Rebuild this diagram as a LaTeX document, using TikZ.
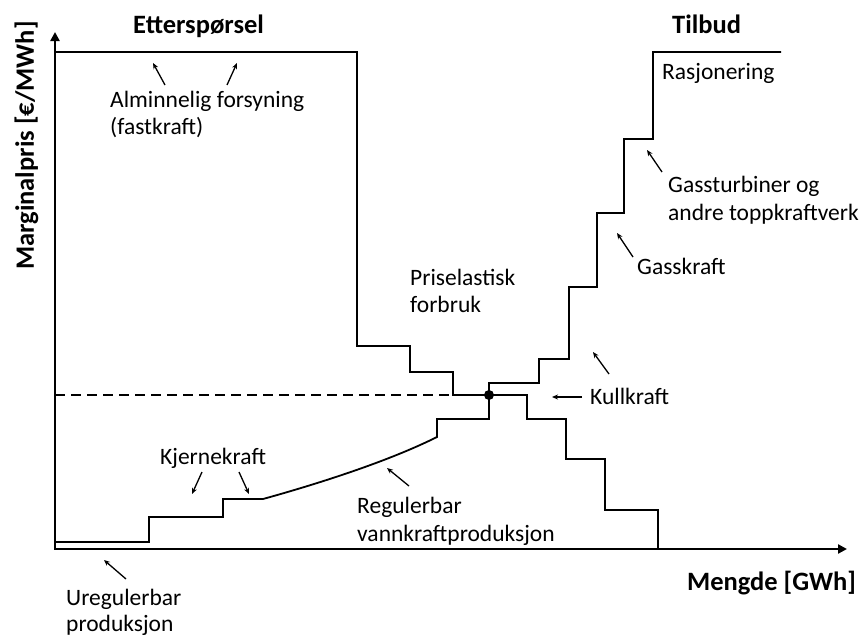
\documentclass[tikz,border=0pt]{standalone}
\usepackage{fontspec}
\setmainfont{Carlito}
\usetikzlibrary{arrows.meta}

\begin{document}
\begin{tikzpicture}[x=1pt,y=-1pt,
  curve/.style={line width=1.8pt, line join=miter},
  axisline/.style={line width=2.8pt, line join=miter,
    {Triangle[length=9pt,width=9pt]}-{Triangle[length=9pt,width=9pt]}},
  note/.style={line width=1.3pt, -{Stealth[length=6pt,width=5pt]}},
  lbl/.style={font=\fontsize{23.5}{28}\selectfont, inner sep=0pt, anchor=base west},
  head/.style={lbl, font=\fontsize{26.5}{30}\selectfont\bfseries},
]
\useasboundingbox (0,0) rectangle (865,637);

% axes
\coordinate (ytip) at (55,32);
\coordinate (xtip) at (847,549);
\draw[axisline] (ytip) |- (xtip);

% demand curve
\draw[curve] (55,52) -- (357,52) -- (357,346) -- (410,346) -- (410,372)
  -- (453,372) -- (453,395) -- (527,395) -- (527,419) -- (566,419)
  -- (566,459) -- (605,459) -- (605,510) -- (658,510) -- (658,549);

% equilibrium price
\draw[curve, dash pattern=on 10pt off 6pt] (55,395) -- (453,395);

% supply curve
\draw[curve] (55,542) -- (149,542) -- (149,517) -- (223,517) -- (223,499)
  -- (263,499) .. controls (310,486) and (385,463) .. (437,437)
  -- (437,419) -- (489,419) -- (489,383) -- (539,383) -- (539,359)
  -- (569,359) -- (569,287) -- (597,287) -- (597,213) -- (624,213)
  -- (624,139) -- (653,139) -- (653,52) -- (781,52);

\node[circle, fill, inner sep=0pt, minimum size=10pt] (eq) at (489,395) {};

% titles
\node[head] (dem) at (133,33) {Etterspørsel};
\node[head] (sup) at (672,33) {Tilbud};
\node[head] (qty) at (687,590) {Mengde [GWh]};
\node[head, rotate=90] (prc) at (34,270) {Marginalpris [€/MWh]};

% labels
\node[lbl] (alm1) at (110,107) {Alminnelig forsyning};
\node[lbl] (alm2) at (110,134) {(fastkraft)};
\node[lbl] (ras) at (662,79) {Rasjonering};
\node[lbl] (gt1) at (668,192) {Gassturbiner og};
\node[lbl] (gt2) at (668,220) {andre toppkraftverk};
\node[lbl] (gas) at (637,274) {Gasskraft};
\node[lbl] (pe1) at (410,285) {Priselastisk};
\node[lbl] (pe2) at (410,312) {forbruk};
\node[lbl] (kull) at (590,404) {Kullkraft};
\node[lbl] (kj) at (160,464) {Kjernekraft};
\node[lbl] (reg1) at (357,513) {Regulerbar};
\node[lbl] (reg2) at (357,541) {vannkraftproduksjon};
\node[lbl] (ure1) at (66,605) {Uregulerbar};
\node[lbl] (ure2) at (66,631) {produksjon};

% pointer arrows
\coordinate (a1s) at (165,85);  \coordinate (a1e) at (153,63);
\coordinate (a2s) at (227,85);  \coordinate (a2e) at (237,63);
\coordinate (a3s) at (662,172); \coordinate (a3e) at (647,150);
\coordinate (a4s) at (633,257); \coordinate (a4e) at (617,233);
\coordinate (a5s) at (582,397); \coordinate (a5e) at (552,397);
\coordinate (a6s) at (609,374); \coordinate (a6e) at (593,352);
\coordinate (a7s) at (202,472); \coordinate (a7e) at (192,494);
\coordinate (a8s) at (239,472); \coordinate (a8e) at (249,494);
\coordinate (a9s) at (409,486); \coordinate (a9e) at (387,468);
\coordinate (a10s) at (126,579); \coordinate (a10e) at (104,560);
\foreach \i in {1,...,10} \draw[note] (a\i s) -- (a\i e);
\end{tikzpicture}
\end{document}
